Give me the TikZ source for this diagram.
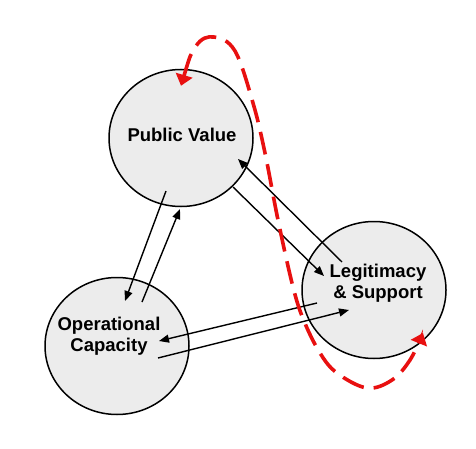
\documentclass[tikz,border=0pt]{standalone}
\usepackage{fontspec}
\setmainfont{Liberation Sans}
\usetikzlibrary{arrows.meta,shapes.geometric}
\definecolor{loopred}{RGB}{232,16,16}
\begin{document}
\begin{tikzpicture}[x=1pt,y=1pt,
  area/.style={ellipse,draw,line width=1.5pt,fill=gray!15,minimum width=144pt,minimum height=137pt,inner sep=0pt},
  areatext/.style={font=\fontsize{18.5}{21}\selectfont\bfseries,align=center},
  flow/.style={-{Triangle[length=10pt,width=8pt]},line width=1.4pt},
  feedback/.style={{Triangle[length=11pt,width=17pt]}-{Triangle[length=11pt,width=17pt]},loopred,line width=3.6pt,dash pattern=on 23pt off 10pt}]
\useasboundingbox (0,0) rectangle (476,448);

\node[area] (pv) at (181,310) {};
\node[area] (ls) at (374,158) {};
\node[area] (oc) at (117,102) {};

\node[areatext] (pvname) at (182,313) {Public Value};
\node[areatext] (lsname) at (378,165) {Legitimacy\\\& Support};
\node[areatext] (ocname) at (109,112) {Operational\\Capacity};

\draw[flow] ([shift={(-15,-53)}]pv.center) -- ([shift={(8,45)}]oc.center);
\draw[flow] ([shift={(25,44)}]oc.center) -- ([shift={(-1,-71)}]pv.center);
\draw[flow] ([shift={(52,-49)}]pv.center) -- ([shift={(-50,14)}]ls.center);
\draw[flow] ([shift={(-32,28)}]ls.center) -- ([shift={(57,-21)}]pv.center);
\draw[flow] ([shift={(-57,-13)}]ls.center) -- ([shift={(42,5)}]oc.center);
\draw[flow] ([shift={(41,-12)}]oc.center) -- ([shift={(-25,-20)}]ls.center);

\coordinate (pvtop) at ([yshift=-17]pv.north);
\coordinate (lsfoot) at ([shift={(49,-43)}]ls.center);
\draw[feedback] plot[smooth,tension=0.6] coordinates {(pvtop) (196,402) (214,411) (235,397) (253,345) (265,295) (278,228) (293,161) (304,127) (320,95) (337,75) (367,60) (392,68) (410,88) (lsfoot)};
\end{tikzpicture}
\end{document}
